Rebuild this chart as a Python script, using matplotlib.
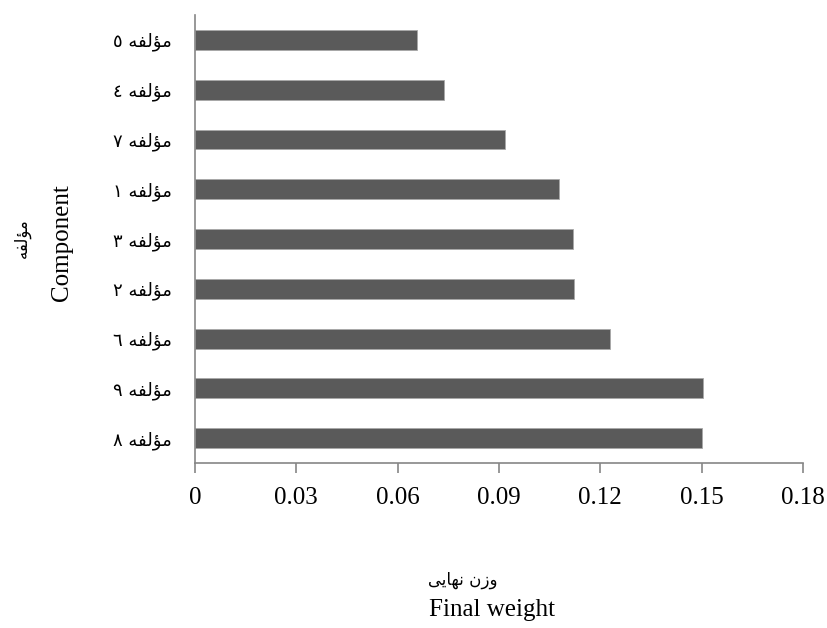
import numpy as np
import matplotlib.pyplot as plt

plt.rcParams['font.family'] = ['Liberation Serif', 'DejaVu Sans']

# component numbers, top to bottom as drawn
components = [5, 4, 7, 1, 3, 2, 6, 9, 8]
weights = [0.0657, 0.0736, 0.0919, 0.1077, 0.1120, 0.1122, 0.1230, 0.1505, 0.1502]
xticks = [0, 0.03, 0.06, 0.09, 0.12, 0.15, 0.18]
xtick_labels = ['0', '0.03', '0.06', '0.09', '0.12', '0.15', '0.18']

# Persian text written in visual order with presentation forms
# (matplotlib does no Arabic shaping / RTL)
word_vis = '\uFEEA\uFED4\uFEDF\uFE86\uFEE3'          # مؤلفه
final_w_vis = '\uFEF0\uFEF3\uFE8E\uFEEC\uFEE7 \uFEE5\uFEAF\uFEED'  # وزن نهایی


def comp_label(n):
    return chr(0x0660 + n) + ' ' + word_vis


fig = plt.figure(figsize=(8.27, 6.28), dpi=100)
ax = fig.add_axes([0.2358, 0.2627, 0.735, 0.7134])

y = np.arange(len(components))[::-1]
ax.barh(y, weights, height=0.4, color='#5a5a5a', edgecolor='#a8a8a8', linewidth=0.6)

ax.set_xlim(0, 0.18)
ax.set_ylim(-0.5, len(components) - 0.5)
ax.set_xticks(xticks)
ax.set_xticklabels(xtick_labels, fontsize=18, family=['Liberation Serif'])
ax.set_yticks(y)
ax.set_yticklabels([comp_label(n) for n in components], fontsize=13,
                   family=['DejaVu Sans'])

for s in ['top', 'right']:
    ax.spines[s].set_visible(False)
for s in ['left', 'bottom']:
    ax.spines[s].set_color('#868686')
    ax.spines[s].set_linewidth(1.2)
ax.tick_params(axis='x', length=7, width=1.2, color='#868686', pad=10)
ax.tick_params(axis='y', length=0, pad=17)

fig.text(0.075, 0.613, 'Component', rotation=90, fontsize=18,
         ha='center', va='center')
fig.text(0.027, 0.621, word_vis, rotation=90, fontsize=12,
         family=['DejaVu Sans'], ha='center', va='center')
fig.text(0.559, 0.077, final_w_vis, fontsize=12, family=['DejaVu Sans'],
         ha='center', va='center')
fig.text(0.595, 0.028, 'Final weight', fontsize=18, ha='center', va='center')

fig.savefig('out.png', dpi=100)
